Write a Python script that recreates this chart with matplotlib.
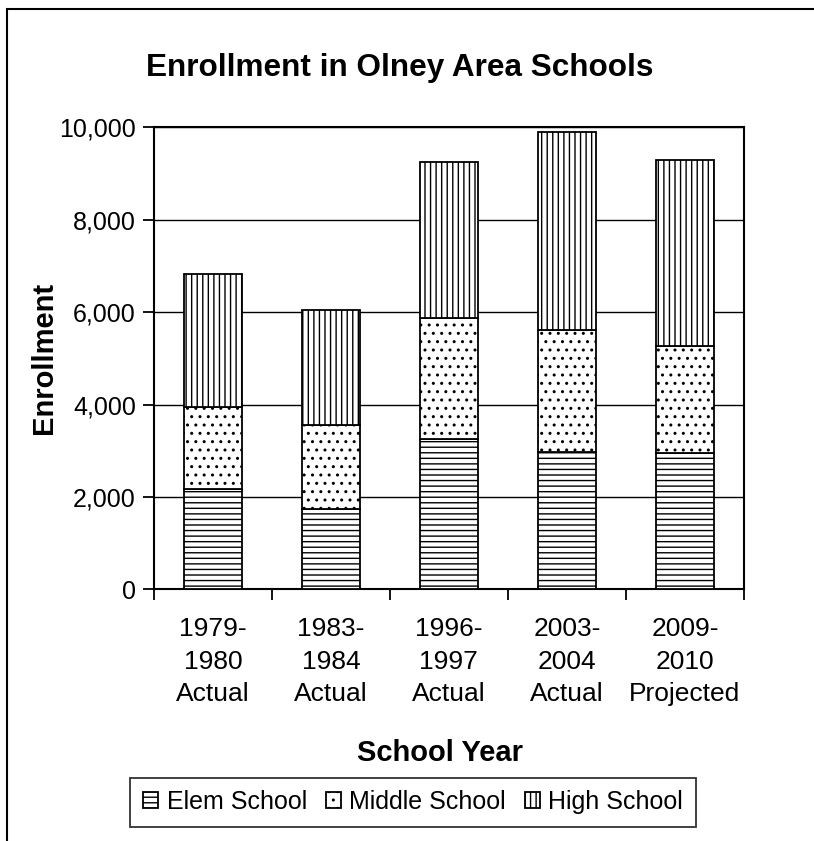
import numpy as np
import matplotlib
matplotlib.use('Agg')
import matplotlib.pyplot as plt
from matplotlib.patches import Rectangle
from matplotlib.ticker import FuncFormatter

plt.rcParams['font.family'] = ['Liberation Sans', 'DejaVu Sans']
plt.rcParams['hatch.color'] = 'black'
plt.rcParams['hatch.linewidth'] = 1.0

years = ['1979-\n1980\nActual', '1983-\n1984\nActual', '1996-\n1997\nActual',
         '2003-\n2004\nActual', '2009-\n2010\nProjected']
elem = [2165, 1730, 3245, 2980, 2945]
middle = [1775, 1820, 2630, 2625, 2320]
high = [2885, 2495, 3370, 4290, 4025]

fig = plt.figure(figsize=(8.14, 8.41), dpi=100)
ax = fig.add_axes([0.189, 0.2993, 0.725, 0.5493])

x = np.arange(len(years))
w = 0.49
bottom2 = np.array(elem)
bottom3 = bottom2 + np.array(middle)
ax.bar(x, elem, w, color='white', edgecolor='black', hatch='---', lw=1.3,
       label='Elem School', zorder=3)
ax.bar(x, middle, w, bottom=bottom2, color='white', edgecolor='black', hatch='..',
       lw=1.3, label='Middle School', zorder=3)
ax.bar(x, high, w, bottom=bottom3, color='white', edgecolor='black', hatch='|||',
       lw=1.3, label='High School', zorder=3)

ax.set_xlim(-0.5, len(years) - 0.5)
ax.set_ylim(0, 10000)
ax.set_yticks(np.arange(0, 10001, 2000))
ax.yaxis.set_major_formatter(FuncFormatter(lambda v, p: f'{int(v):,}'))
ax.grid(axis='y', color='black', lw=1.0, zorder=0)

ax.set_xticks(x)
ax.set_xticklabels(years, fontsize=19, linespacing=1.45)
ax.set_xticks(np.arange(-0.5, len(years)), minor=True)
ax.tick_params(axis='x', which='major', length=0, pad=20)
ax.tick_params(axis='x', which='minor', length=8, width=1.3, direction='out')
ax.tick_params(axis='y', length=8, width=1.3, direction='out', labelsize=18, pad=5)
for s in ax.spines.values():
    s.set_linewidth(1.5)

ax.set_xlabel('School Year', fontsize=21, fontweight='bold')
ax.xaxis.set_label_coords(0.485, -0.354)
ax.xaxis.label.set_va('center')
ax.set_ylabel('Enrollment', fontsize=21, fontweight='bold')
ax.yaxis.set_label_coords(-0.186, 0.5)
ax.yaxis.label.set_va('center')

fig.text(400 / 814, 1 - 68 / 841, 'Enrollment in Olney Area Schools',
         fontsize=22.7, fontweight='bold', ha='center', va='center')

leg = ax.legend(loc='center', bbox_to_anchor=(413 / 814, 1 - 802 / 841),
                bbox_transform=fig.transFigure, ncol=3, fontsize=18,
                frameon=True, fancybox=False, handlelength=0.6, handleheight=0.6,
                handletextpad=0.35, columnspacing=0.75, borderpad=0.5,
                borderaxespad=0)
leg.get_frame().set_edgecolor('black')
leg.get_frame().set_linewidth(1.3)

fig.patches.append(Rectangle((7 / 814, -0.1), 1.2, 1.1 - 9 / 841,
                             transform=fig.transFigure, fill=False,
                             edgecolor='black', lw=1.5))

fig.savefig('out.png', dpi=100)
